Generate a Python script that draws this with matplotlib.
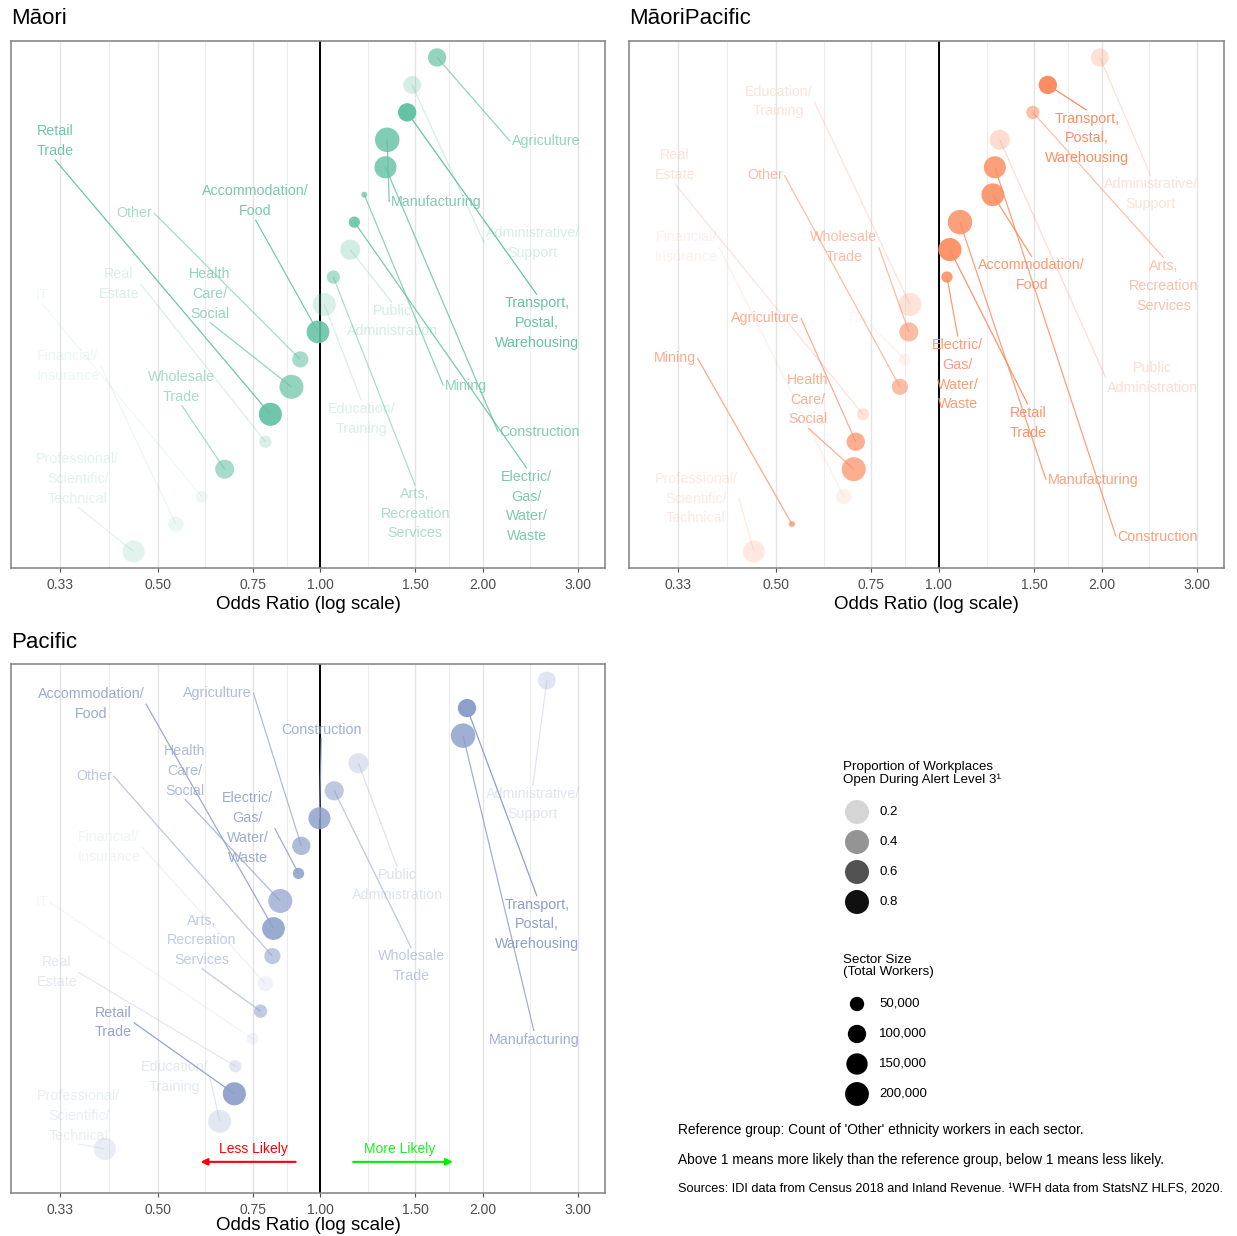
import numpy as np
import matplotlib
matplotlib.use("Agg")
import matplotlib.pyplot as plt
from matplotlib.ticker import NullLocator

plt.rcParams["font.family"] = ["Liberation Sans", "DejaVu Sans"]

W, H, DPI = 1237, 1236, 100

# ---------------------------------------------------------------- data
sectors = [
    "Agriculture", "Mining", "Manufacturing", "Electric/\nGas/\nWater/\nWaste",
    "Construction", "Wholesale\nTrade", "Retail\nTrade", "Accommodation/\nFood",
    "Transport,\nPostal,\nWarehousing", "IT", "Financial/\nInsurance", "Real\nEstate",
    "Professional/\nScientific/\nTechnical", "Administrative/\nSupport",
    "Public\nAdministration", "Education/\nTraining", "Health\nCare/\nSocial",
    "Arts,\nRecreation\nServices", "Other",
]

# total workers in each sector
workers = [100000, 8000, 215000, 25000, 164000, 112000, 185000, 178000, 100000,
           28000, 60000, 32000, 164000, 95000, 128000, 184000, 204000, 40000, 71000]

# proportion of workplaces open during alert level 3
prop_open = [0.62, 0.65, 0.72, 0.75, 0.72, 0.52, 0.80, 0.76, 0.85,
             0.15, 0.17, 0.26, 0.22, 0.28, 0.30, 0.26, 0.62, 0.50, 0.52]

# odds ratios relative to 'Other' ethnicity workers
or_maori = [1.645, 1.206, 1.330, 1.156, 1.320, 0.665, 0.808, 0.990, 1.448,
            0.603, 0.540, 0.791, 0.451, 1.479, 1.136, 1.017, 0.884, 1.057, 0.918]
or_maoripacific = [0.702, 0.535, 1.094, 1.035, 1.269, 0.880, 1.048, 1.258, 1.590,
                   0.865, 0.667, 0.724, 0.455, 1.984, 1.296, 0.884, 0.696, 1.492, 0.847]
or_pacific = [0.922, np.nan, 1.838, 0.911, 0.996, 1.061, 0.693, 0.819, 1.869,
              0.749, 0.791, 0.696, 0.399, 2.627, 1.176, 0.651, 0.843, 0.775, 0.815]

tick_vals = [0.33, 0.50, 0.75, 1.00, 1.50, 2.00, 3.00]
tick_labels = ["0.33", "0.50", "0.75", "1.00", "1.50", "2.00", "3.00"]

alpha_breaks = [0.2, 0.4, 0.6, 0.8]
size_breaks = [50000, 100000, 150000, 200000]
size_break_labels = ["50,000", "100,000", "150,000", "200,000"]

# ---------------------------------------------------------------- label layout (odds, rank)
lab_maori = [(2.616, 15.95), (1.861, 7.04), (1.638, 13.73), (2.413, 2.64), (2.55, 5.36),
             (0.5535, 7.0), (0.3224, 15.95), (0.758, 13.76), (2.518, 9.33), (0.305, 10.35),
             (0.3407, 7.76), (0.4233, 10.75), (0.3556, 3.65), (2.475, 12.24), (1.358, 9.4),
             (1.191, 5.84), (0.624, 10.38), (1.498, 2.38), (0.453, 13.33)]
lab_maoripacific = [(0.477, 9.51), (0.325, 8.05), (1.926, 3.62), (1.084, 7.44), (2.539, 1.545),
                    (0.667, 12.09), (1.46, 5.69), (1.485, 11.07), (1.877, 16.05), (0.700, 9.51),
                    (0.341, 12.09), (0.325, 15.07), (0.3556, 2.93), (2.465, 14.02), (2.486, 7.33),
                    (0.506, 17.4), (0.573, 6.53), (2.605, 10.67), (0.477, 14.71)]
lab_pacific = [(0.645, 17.56), None, (2.486, 4.97), (0.733, 12.65), (1.004, 16.22),
               (1.473, 7.63), (0.414, 5.59), (0.376, 17.16), (2.518, 9.15), (0.305, 9.95),
               (0.406, 11.96), (0.325, 7.41), (0.357, 2.2), (2.475, 13.52), (1.388, 10.57),
               (0.537, 3.62), (0.561, 14.72), (0.603, 8.57), (0.381, 14.54)]

# ---------------------------------------------------------------- scales
p_lo, p_hi = min(prop_open), max(prop_open)
w_lo, w_hi = min(workers), max(workers)


def alpha_of(p):
    return 0.1 + 0.9 * (p - p_lo) / (p_hi - p_lo)


def diam_px(v):
    return 6.0 + 18.5 * np.sqrt(max(v - w_lo, 0) / (w_hi - w_lo))


def marker_area(d):
    return (d * 72.0 / DPI) ** 2


def px_rect(x0, y0, x1, y1):
    return [x0 / W, 1 - y1 / H, (x1 - x0) / W, (y1 - y0) / H]


fig = plt.figure(figsize=(W / DPI, H / DPI), dpi=DPI)
fig.patch.set_facecolor("white")

panels = [
    ("M\u0101ori", "#66C2A5", or_maori, lab_maori, px_rect(11, 41, 605, 568), (0.4, 19.6), (11, 18), 604),
    ("M\u0101oriPacific", "#FC8D62", or_maoripacific, lab_maoripacific, px_rect(629, 41, 1224, 568), (0.4, 19.6), (629, 18), 604),
    ("Pacific", "#8DA0CB", or_pacific, lab_pacific, px_rect(11, 664, 605, 1193), (-0.6, 18.6), (11, 642), 1226),
]

label_fs = 10.3
segments = []
axes = []
for title, col, odds, labs, rect, ylim, tpos, xlab_y in panels:
    ax = fig.add_axes(rect)
    axes.append(ax)
    ax.set_xscale("log")
    lo, hi = np.log(0.3), np.log(3.0)
    pad = 0.05 * (hi - lo)
    ax.set_xlim(np.exp(lo - pad), np.exp(hi + pad))
    ax.set_ylim(*ylim)
    ax.autoscale(False)

    # vertical grid lines (major + log-midpoint minors)
    lt = np.log(tick_vals)
    minors = np.exp((lt[:-1] + lt[1:]) / 2)
    for v in tick_vals:
        ax.axvline(v, color="#e4e4e4", lw=1.0, zorder=0)
    for v in minors:
        ax.axvline(v, color="#ededed", lw=0.8, zorder=0)
    ax.axvline(1.0, color="black", lw=1.4, zorder=1)

    ax.set_xticks(tick_vals)
    ax.set_xticklabels(tick_labels)
    ax.xaxis.set_minor_locator(NullLocator())
    ax.set_yticks([])
    ax.tick_params(axis="x", labelsize=10, labelcolor="#4d4d4d", color="#4d4d4d",
                   length=3, width=0.8, pad=4)
    for s in ax.spines.values():
        s.set_color("#808080")
        s.set_linewidth(1.1)

    odds = np.asarray(odds, float)
    idx = np.where(~np.isnan(odds))[0]
    order = idx[np.argsort(odds[idx])]
    rank = np.full(len(odds), np.nan)
    rank[order] = np.arange(1, len(order) + 1)

    for i in idx:
        a = alpha_of(prop_open[i])
        ax.scatter(odds[i], rank[i], s=marker_area(diam_px(workers[i])), color=col,
                   alpha=a, edgecolors="none", zorder=3)
        lx, ly = labs[i]
        t = ax.text(lx, ly, sectors[i], ha="center", va="center", multialignment="center",
                    color=col, alpha=a, fontsize=label_fs, linespacing=1.52, zorder=5)
        segments.append((ax, odds[i], rank[i], t, col, a))

    fig.text(tpos[0] / W, 1 - tpos[1] / H, title, ha="left", va="center", fontsize=16, color="black")
    cx = (rect[0] + rect[2] / 2)
    fig.text(cx, 1 - xlab_y / H, "Odds Ratio (log scale)", ha="center", va="center",
             fontsize=13.5, color="black")

# direction hints on the Pacific panel
axp = axes[2]
axp.annotate("", xy=(0.60, 0.53), xytext=(0.90, 0.53),
             arrowprops=dict(arrowstyle="-|>", color="#FF0000", lw=1.5, mutation_scale=10,
                             shrinkA=0, shrinkB=0), zorder=6)
axp.annotate("", xy=(1.76, 0.53), xytext=(1.15, 0.53),
             arrowprops=dict(arrowstyle="-|>", color="#00EE00", lw=1.5, mutation_scale=10,
                             shrinkA=0, shrinkB=0), zorder=6)
axp.text(0.752, 1.0, "Less Likely", ha="center", va="center", color="#FF0000", fontsize=10, zorder=6)
axp.text(1.405, 1.0, "More Likely", ha="center", va="center", color="#22EE22", fontsize=10, zorder=6)

# ---------------------------------------------------------------- legends and notes
lax = fig.add_axes([0, 0, 1, 1])
lax.set_xlim(0, W)
lax.set_ylim(H, 0)
lax.axis("off")

lax.text(843, 761, "Proportion of Workplaces\nOpen During Alert Level 3\u00b9", ha="left", va="top",
         fontsize=9.6, linespacing=1.0, color="black")
for k, b in enumerate(alpha_breaks):
    yk = 812 + 30 * k
    lax.scatter(857, yk, s=marker_area(24), color="black", alpha=alpha_of(b), edgecolors="none")
    lax.text(879, yk, f"{b:.1f}", ha="left", va="center", fontsize=9.5, color="black")

lax.text(843, 954, "Sector Size\n(Total Workers)", ha="left", va="top",
         fontsize=9.6, linespacing=1.0, color="black")
for k, (b, bl) in enumerate(zip(size_breaks, size_break_labels)):
    yk = 1004 + 30 * k
    lax.scatter(857, yk, s=marker_area(diam_px(b)), color="black", edgecolors="none")
    lax.text(879, yk, bl, ha="left", va="center", fontsize=9.5, color="black")

notes = [
    "Reference group: Count of 'Other' ethnicity workers in each sector.",
    "Above 1 means more likely than the reference group, below 1 means less likely.",
    "Sources: IDI data from Census 2018 and Inland Revenue. \u00b9WFH data from StatsNZ HLFS, 2020.",
]
note_fs = [9.9, 9.9, 9.2]
for k, s in enumerate(notes):
    lax.text(678, 1130 + 30 * k, s, ha="left", va="center", fontsize=note_fs[k], color="black")

# ---------------------------------------------------------------- leader segments
fig.canvas.draw()
renderer = fig.canvas.get_renderer()
for ax, ox, ry, t, col, a in segments:
    bb = t.get_window_extent(renderer)
    pd = 1.5
    x0, x1, y0, y1 = bb.x0 - pd, bb.x1 + pd, bb.y0 - pd, bb.y1 + pd
    xm, ym = (x0 + x1) / 2, (y0 + y1) / 2
    # connect to the nearest edge midpoint of the label box
    cands = [(x0, ym), (xm, y1), (x1, ym), (xm, y0)]
    px, py = ax.transData.transform((ox, ry))
    best = min(cands, key=lambda c: (c[0] - px) ** 2 + (c[1] - py) ** 2)
    qx, qy = ax.transData.inverted().transform(best)
    ax.plot([ox, qx], [ry, qy], color=col, alpha=a, lw=0.9, zorder=4, solid_capstyle="butt")

fig.savefig("out.png", dpi=DPI, facecolor="white")
